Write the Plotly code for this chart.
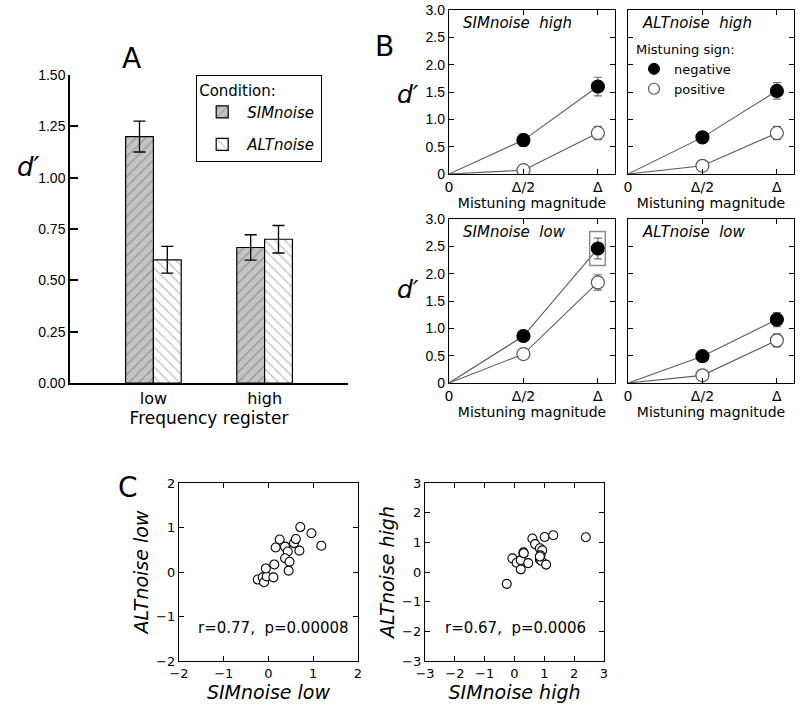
import plotly.graph_objects as go

# ---------------- data ----------------
registers = ["low", "high"]
sim_vals = [1.20, 0.66]
sim_err = [0.075, 0.062]
alt_vals = [0.60, 0.70]
alt_err = [0.065, 0.067]

mag_x = [0, 1, 2]
mag_ticks = ["0", "Δ/2", "Δ"]

sim_high_neg = [0, 0.62, 1.60]
sim_high_neg_err = [0, 0.11, 0.17]
sim_high_pos = [0, 0.07, 0.75]
sim_high_pos_err = [0, 0.0, 0.12]

alt_high_neg = [0, 0.67, 1.52]
alt_high_neg_err = [0, 0.08, 0.15]
alt_high_pos = [0, 0.15, 0.75]
alt_high_pos_err = [0, 0.0, 0.12]

sim_low_neg = [0, 0.86, 2.46]
sim_low_neg_err = [0, 0.07, 0.19]
sim_low_pos = [0, 0.53, 1.84]
sim_low_pos_err = [0, 0.07, 0.14]

alt_low_neg = [0, 0.49, 1.16]
alt_low_neg_err = [0, 0.0, 0.13]
alt_low_pos = [0, 0.14, 0.78]
alt_low_pos_err = [0, 0.0, 0.12]

c_low_sim = [-0.24, -0.13, -0.10, -0.04, -0.06, 0.11, 0.13, 0.16, 0.25, 0.37,
             0.43, 0.37, 0.47, 0.45, 0.57, 0.61, 0.69, 0.71, 0.96, 1.18]
c_low_alt = [-0.17, -0.12, -0.23, -0.10, 0.08, -0.12, 0.17, 0.55, 0.73, 0.57,
             0.46, 0.31, 0.23, 0.03, 0.65, 0.74, 0.48, 1.01, 0.87, 0.59]

c_high_sim = [-0.26, -0.07, 0.07, 0.21, 0.21, 0.30, 0.31, 0.46, 0.60, 0.69,
              0.85, 0.93, 0.87, 0.85, 0.90, 1.06, 1.01, 1.30, 2.39, 0.85]
c_high_alt = [-0.40, 0.46, 0.31, 0.40, 0.09, 0.66, 0.63, 0.30, 1.13, 0.94,
              0.80, 0.73, 0.56, 0.42, 0.38, 0.25, 1.18, 1.24, 1.17, 0.52]

# ---------------- figure ----------------
W, H = 800, 704
def fx(px):
    return px / W
def fy(py):
    return 1 - py / H

FONT = "DejaVu Sans"
TICKFONT = dict(family="Liberation Sans, Arial", size=14, color="black")

fig = go.Figure()

# Panel A bars
fig.add_trace(go.Bar(
    x=registers, y=sim_vals, name="<i>SIMnoise</i>", legendgroup="sim",
    error_y=dict(type="data", array=sim_err, color="black", thickness=1.3, width=6),
    marker=dict(color="#c4c4c4", line=dict(color="black", width=1.2),
                pattern=dict(shape="/", fgcolor="#6a6a6a", bgcolor="#c4c4c4", size=7, solidity=0.2)),
    xaxis="x", yaxis="y", legend="legend"))
fig.add_trace(go.Bar(
    x=registers, y=alt_vals, name="<i>ALTnoise</i>", legendgroup="alt",
    error_y=dict(type="data", array=alt_err, color="black", thickness=1.3, width=6),
    marker=dict(color="white", line=dict(color="black", width=1.2),
                pattern=dict(shape="\\", fgcolor="#8a8a8a", bgcolor="white", size=7, solidity=0.2)),
    xaxis="x", yaxis="y", legend="legend"))

# Panel B
panels_b = [
    (2, sim_high_neg, sim_high_neg_err, sim_high_pos, sim_high_pos_err),
    (3, alt_high_neg, alt_high_neg_err, alt_high_pos, alt_high_pos_err),
    (4, sim_low_neg, sim_low_neg_err, sim_low_pos, sim_low_pos_err),
    (5, alt_low_neg, alt_low_neg_err, alt_low_pos, alt_low_pos_err),
]
for idx, neg, negerr, pos, poserr in panels_b:
    xa, ya = f"x{idx}", f"y{idx}"
    for vals, errs, filled in [(pos, poserr, False), (neg, negerr, True)]:
        fig.add_trace(go.Scatter(x=mag_x, y=vals, mode="lines",
                                 line=dict(color="#5a5a5a", width=1.1),
                                 showlegend=False, xaxis=xa, yaxis=ya, hoverinfo="skip"))
        fig.add_trace(go.Scatter(
            x=mag_x[1:], y=vals[1:], mode="markers",
            error_y=dict(type="data", array=errs[1:], color="#707070", thickness=1.2, width=4),
            marker=dict(size=13, color="black" if filled else "white",
                        line=dict(color="black" if filled else "#555555", width=1.2)),
            showlegend=False, xaxis=xa, yaxis=ya))

# legend entries for panel B
fig.add_trace(go.Scatter(x=[None], y=[None], mode="markers", name="negative",
                         marker=dict(size=11, color="black", line=dict(color="black", width=1)),
                         xaxis="x3", yaxis="y3", legend="legend2"))
fig.add_trace(go.Scatter(x=[None], y=[None], mode="markers", name="positive",
                         marker=dict(size=11, color="white", line=dict(color="#555555", width=1.2)),
                         xaxis="x3", yaxis="y3", legend="legend2"))

# Panel C scatters
fig.add_trace(go.Scatter(x=c_low_sim, y=c_low_alt, mode="markers",
                         marker=dict(size=9, color="white", line=dict(color="black", width=1.1)),
                         showlegend=False, xaxis="x6", yaxis="y6"))
fig.add_trace(go.Scatter(x=c_high_sim, y=c_high_alt, mode="markers",
                         marker=dict(size=9, color="white", line=dict(color="black", width=1.1)),
                         showlegend=False, xaxis="x7", yaxis="y7"))

layout = dict(
    width=W, height=H, margin=dict(l=0, r=0, t=0, b=0, autoexpand=False),
    paper_bgcolor="white", plot_bgcolor="white",
    font=dict(family=FONT, color="black"),
    barmode="group", bargap=0.5, bargroupgap=0,
    showlegend=True,
)

# Panel A axes
layout["xaxis"] = dict(domain=[fx(70), fx(348)], anchor="y", type="category", automargin=False,
                       range=[-0.75, 1.75], showline=True, linecolor="black", linewidth=1.5,
                       ticks="", showgrid=False, zeroline=False,
                       tickfont=dict(family=FONT, size=16, color="black"),
                       title=dict(text="Frequency register", font=dict(family=FONT, size=17), standoff=0))
layout["yaxis"] = dict(domain=[fy(383), fy(75)], anchor="x", range=[0, 1.5], automargin=False,
                       tickvals=[0, 0.25, 0.5, 0.75, 1.0, 1.25, 1.5], tickformat=".2f",
                       showline=True, linecolor="black", linewidth=1.5, ticks="inside",
                       ticklen=8, tickwidth=1.5, tickcolor="black", showgrid=False,
                       zeroline=False, tickfont=TICKFONT)

# Panel B axes
b_dom = {2: ([449, 615], [174, 10]), 3: ([628, 794], [174, 10]),
         4: ([449, 615], [383, 219]), 5: ([628, 794], [383, 219])}
for idx, (xd, yd) in b_dom.items():
    layout[f"xaxis{idx}"] = dict(domain=[fx(xd[0]), fx(xd[1])], anchor=f"y{idx}", automargin=False,
                                 range=[0, 2.23], tickvals=mag_x, ticktext=mag_ticks,
                                 showline=True, mirror="allticks", linecolor="black", linewidth=1.3,
                                 ticks="inside", ticklen=5, tickcolor="black", showgrid=False,
                                 zeroline=False, tickfont=dict(family=FONT, size=14, color="black"),
                                 title=dict(text="Mistuning magnitude", font=dict(family=FONT, size=14), standoff=0))
    layout[f"yaxis{idx}"] = dict(domain=[fy(yd[0]), fy(yd[1])], anchor=f"x{idx}", automargin=False,
                                 range=[0, 3], tickvals=[0, 0.5, 1, 1.5, 2, 2.5, 3],
                                 ticktext=["0", "0.5", "1.0", "1.5", "2.0", "2.5", "3.0"],
                                 showticklabels=idx in (2, 4),
                                 showline=True, mirror="allticks", linecolor="black", linewidth=1.3,
                                 ticks="inside", ticklen=5, tickcolor="black", showgrid=False,
                                 zeroline=False, tickfont=TICKFONT)

# Panel C axes
c_dom = {6: ([179, 358], 2, "SIMnoise low", "ALTnoise low"),
         7: ([425, 604], 3, "SIMnoise high", "ALTnoise high")}
for idx, (xd, lim, xt, yt) in c_dom.items():
    common = dict(range=[-lim, lim], dtick=1, tick0=0, showline=True, mirror="allticks",
                  linecolor="black", linewidth=1.3, ticks="inside", ticklen=5, tickcolor="black",
                  showgrid=False, zeroline=False, automargin=False,
                  tickfont=dict(family=FONT, size=13, color="black"))
    layout[f"xaxis{idx}"] = dict(domain=[fx(xd[0]), fx(xd[1])], anchor=f"y{idx}",
                                 title=dict(text=f"<i>{xt}</i>", font=dict(family=FONT, size=19), standoff=2),
                                 **common)
    layout[f"yaxis{idx}"] = dict(domain=[fy(661), fy(483)], anchor=f"x{idx}",
                                 title=dict(text=f"<i>{yt}</i>", font=dict(family=FONT, size=19), standoff=2),
                                 **common)

layout["legend"] = dict(x=fx(196), y=fy(75), xanchor="left", yanchor="top",
                        bordercolor="black", borderwidth=1.2, bgcolor="white",
                        title=dict(text="Condition:", font=dict(family=FONT, size=15)),
                        font=dict(family=FONT, size=15), itemwidth=40,
                        tracegroupgap=10, traceorder="grouped")
layout["legend2"] = dict(x=fx(634), y=fy(37), xanchor="left", yanchor="top",
                         bgcolor="rgba(0,0,0,0)", borderwidth=0,
                         title=dict(text="Mistuning sign:", font=dict(family=FONT, size=13)),
                         font=dict(family=FONT, size=13), itemwidth=30)

annotations = [
    dict(text="A", x=fx(120), y=fy(40), xref="paper", yref="paper", showarrow=False,
         font=dict(family=FONT, size=28)),
    dict(text="B", x=fx(384), y=fy(28), xref="paper", yref="paper", showarrow=False,
         font=dict(family=FONT, size=28)),
    dict(text="C", x=fx(116), y=fy(506), xref="paper", yref="paper", showarrow=False,
         font=dict(family=FONT, size=28)),
    dict(text="<i>d′</i>", x=fx(15), y=fy(150), xref="paper", yref="paper", showarrow=False,
         font=dict(family=FONT, size=26)),
    dict(text="<i>d′</i>", x=fx(408), y=fy(78), xref="paper", yref="paper", showarrow=False,
         font=dict(family=FONT, size=25)),
    dict(text="<i>d′</i>", x=fx(408), y=fy(290), xref="paper", yref="paper", showarrow=False,
         font=dict(family=FONT, size=25)),
]
titles_b = {2: "SIMnoise  high", 3: "ALTnoise  high", 4: "SIMnoise  low", 5: "ALTnoise  low"}
for idx, t in titles_b.items():
    annotations.append(dict(text=f"<i>{t}</i>", x=0.07, y=0.985, xref=f"x{idx} domain",
                            yref=f"y{idx} domain", xanchor="left", yanchor="top", showarrow=False,
                            font=dict(family=FONT, size=15)))
annotations.append(dict(text="r=0.77,  p=0.00008", x=0.12, y=-1.25, xref="x6", yref="y6",
                        showarrow=False, font=dict(family=FONT, size=15)))
annotations.append(dict(text="r=0.67,  p=0.0006", x=0.02, y=-1.9, xref="x7", yref="y7",
                        showarrow=False, font=dict(family=FONT, size=15)))
layout["annotations"] = annotations

# highlight box around SIMnoise low, Δ negative
layout["shapes"] = [dict(type="rect", xref="x4", yref="y4",
                         x0=mag_x[2] - 0.11, x1=mag_x[2] + 0.10,
                         y0=sim_low_neg[2] - 0.31, y1=sim_low_neg[2] + 0.31,
                         line=dict(color="#8a8a8a", width=1.5))]

fig.update_layout(**layout)
fig.write_html("out.html", config={"displayModeBar": False},
               post_script="document.body.style.margin='0';document.body.style.padding='0';")
